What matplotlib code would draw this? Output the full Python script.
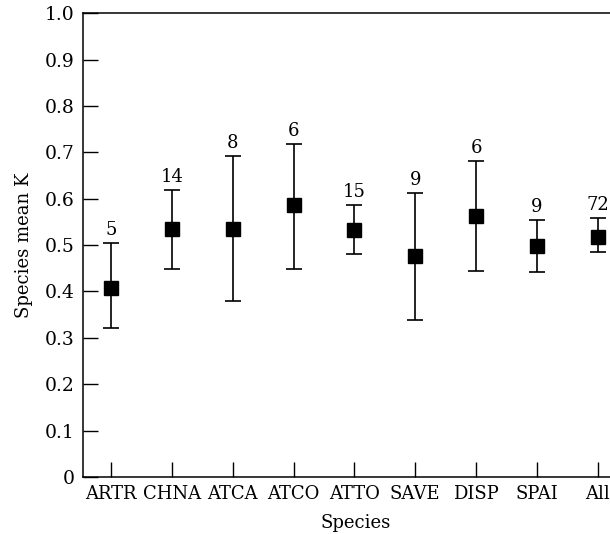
import numpy as np
import matplotlib
matplotlib.use("Agg")
import matplotlib.pyplot as plt

plt.rcParams['font.family'] = ['DejaVu Serif']

especies = ["ARTR", "CHNA", "ATCA", "ATCO", "ATTO", "SAVE", "DISP", "SPAI", "All"]
media_k = [0.407, 0.535, 0.535, 0.587, 0.533, 0.477, 0.563, 0.498, 0.518]
k_sup = [0.504, 0.619, 0.692, 0.718, 0.587, 0.613, 0.682, 0.554, 0.558]
k_inf = [0.322, 0.449, 0.379, 0.449, 0.481, 0.338, 0.444, 0.441, 0.486]
n_muestras = [5, 14, 8, 6, 15, 9, 6, 9, 72]

x = np.arange(len(especies))
media_k = np.array(media_k)
err = [media_k - np.array(k_inf), np.array(k_sup) - media_k]

fig = plt.figure(figsize=(6.1, 5.34), dpi=100)
ax = fig.add_axes([0.136, 0.107, 0.864, 0.868])

ax.errorbar(x, media_k, yerr=err, fmt='s', color='black', ecolor='black',
            markersize=9.5, capsize=6, elinewidth=1.2, capthick=1.2)

# numero de muestras encima de cada barra
for xi, top, n in zip(x, k_sup, n_muestras):
    ax.annotate(str(n), (xi, top), xytext=(0, 3), textcoords='offset points',
                ha='center', va='bottom', fontsize=13)

ax.set_xlim(-0.46, 8.2)
ax.set_ylim(0, 1.0)
ax.set_xticks(x)
ax.set_xticklabels(especies)
ax.set_yticks(np.arange(0, 1.01, 0.1))
ax.set_yticklabels(["0"] + ["%.1f" % v for v in np.arange(0.1, 1.01, 0.1)])
ax.tick_params(direction='in', length=11, width=1, labelsize=13, pad=6)
ax.tick_params(axis='y', labelsize=13.5)

ax.spines['right'].set_visible(False)
for s in ['left', 'top', 'bottom']:
    ax.spines[s].set_linewidth(1.1)

ax.set_xlabel("Species", fontsize=13)
ax.set_ylabel("Species mean K", fontsize=13)
ax.xaxis.set_label_coords(0.518, -0.08)
ax.yaxis.set_label_coords(-0.095, 0.5)

fig.savefig("out.png", dpi=100)
